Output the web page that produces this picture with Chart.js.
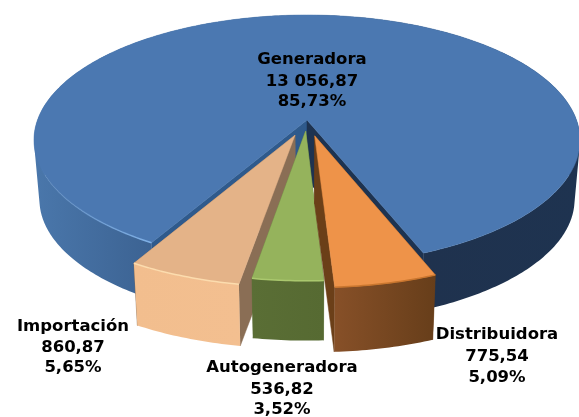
<!DOCTYPE html>
<html>
<head>
<meta charset="utf-8">
<title>Pie 3D</title>
<script src="https://cdn.jsdelivr.net/npm/chart.js@4"></script>
<style>
  html, body { margin: 0; padding: 0; background: #fff; }
  canvas { display: block; }
</style>
</head>
<body>
<canvas id="pie" width="579" height="417"></canvas>
<script>
const labels = ['Generadora', 'Distribuidora', 'Autogeneradora', 'Importación'];
const values = [13056.87, 775.54, 536.82, 860.87];
const valueLabels = ['13 056,87', '775,54', '536,82', '860,87'];
const percentLabels = ['85,73%', '5,09%', '3,52%', '5,65%'];

const topColors = ['#4b78b1', '#ee9349', '#95b35c', '#e4b388'];

// explosion of each slice, in pie radii, and height of its side wall
const explode = [0, 0.13, 0.09, 0.13];
const depths = [60, 68, 63, 65];
// painter's order, back slices first
const drawOrder = [0, 3, 2, 1];
// side colours: [start cut wall, end cut wall], outer wall stops left to right
const cutColors = [
  ['#2f5a8c', '#1e3350'],
  ['#6b3f18', '#6b3f18'],
  ['#5a6e35', '#5a6e35'],
  ['#8a6e55', '#8a6e55']
];
const wallStops = [
  [[0, '#4a77ab'], [0.2, '#3d6494'], [0.5, '#2c4a72'], [0.72, '#1f324e'], [1, '#1e3350']],
  [[0, '#875028'], [1, '#673e1a']],
  [[0, '#5a6e35'], [1, '#566a32']],
  [[0, '#f2be8e'], [1, '#f3bf90']]
];
const rimColors = ['#7fb0e6', '#c9762f', '#aac86e', '#fcdcae'];

// label anchors: centre x and the y of each of the 3 lines
const labelPos = [[312, 60, 82, 102], [497, 335, 357, 378], [282, 368, 390, 410], [73, 327, 348, 368]];

// projection of the disc (perspective seen from above)
const CX = 307, CY = 120, RX = 269.5, RY = 121.8, P = 0.16;

function proj(x, y, z, depth) {
  const w = 1 - P * y;
  const sc = 1 - 0.02 * z;
  return [CX + RX * sc * x / w, CY + RY * sc * y / w + depth * z];
}

function arcPoints(a0, a1, ox, oy, z, depth) {
  const pts = [];
  const n = Math.max(2, Math.ceil((a1 - a0) / 0.015));
  for (let i = 0; i <= n; i++) {
    const a = a0 + (a1 - a0) * i / n;
    pts.push(proj(ox + Math.cos(a), oy + Math.sin(a), z, depth));
  }
  return pts;
}

function tracePoly(ctx, pts) {
  pts.forEach((p, i) => (i ? ctx.lineTo(p[0], p[1]) : ctx.moveTo(p[0], p[1])));
  ctx.closePath();
}

function fillPoly(ctx, pts, fill) {
  ctx.beginPath();
  tracePoly(ctx, pts);
  ctx.fillStyle = fill;
  ctx.fill();
  ctx.strokeStyle = fill;
  ctx.lineWidth = 0.5;
  ctx.stroke();
}

function signedArea(pts) {
  let sum = 0;
  pts.forEach((p, i) => {
    const q = pts[(i + 1) % pts.length];
    sum += p[0] * q[1] - q[0] * p[1];
  });
  return sum;
}

function drawSlice(ctx, el, i) {
  const a0 = el.startAngle, a1 = el.endAngle, mid = (a0 + a1) / 2;
  const ox = Math.cos(mid) * explode[i], oy = Math.sin(mid) * explode[i];
  const d = depths[i];
  const top = arcPoints(a0, a1, ox, oy, 0, d);
  const bottom = arcPoints(a0, a1, ox, oy, 1, d);
  const apexTop = proj(ox, oy, 0, d), apexBottom = proj(ox, oy, 1, d);

  fillPoly(ctx, [apexTop, top[0], bottom[0], apexBottom], cutColors[i][0]);
  fillPoly(ctx, [apexTop, top[top.length - 1], bottom[bottom.length - 1], apexBottom], cutColors[i][1]);

  // outer wall as one path of quads, all wound the same way so no seams show
  const xs = top.concat(bottom).map(p => p[0]);
  const wall = ctx.createLinearGradient(Math.min(...xs), 0, Math.max(...xs), 0);
  wallStops[i].forEach(s => wall.addColorStop(s[0], s[1]));
  ctx.beginPath();
  for (let k = 0; k < top.length - 1; k++) {
    const quad = [top[k], top[k + 1], bottom[k + 1], bottom[k]];
    tracePoly(ctx, signedArea(quad) < 0 ? quad.reverse() : quad);
  }
  ctx.fillStyle = wall;
  ctx.fill();

  fillPoly(ctx, [apexTop].concat(top), el.options.backgroundColor);

  // light rim on the front edge
  let rim = rimColors[i];
  let from = top;
  if (i === 0) {
    from = top.filter(p => p[0] < 160 && p[1] > 150);
    rim = ctx.createLinearGradient(40, 0, 150, 0);
    rim.addColorStop(0, 'rgba(127,176,230,0)');
    rim.addColorStop(1, rimColors[0]);
  }
  ctx.beginPath();
  from.forEach((p, k) => (k ? ctx.lineTo(p[0], p[1]) : ctx.moveTo(p[0], p[1])));
  ctx.strokeStyle = rim;
  ctx.lineWidth = 1.5;
  ctx.stroke();
}

const pie3d = {
  id: 'pie3d',
  beforeDatasetDraw(chart, args) {
    const ctx = chart.ctx;
    ctx.save();
    ctx.lineJoin = 'round';
    drawOrder.forEach(i => drawSlice(ctx, args.meta.data[i], i));
    ctx.restore();
    return false;
  },
  afterDraw(chart) {
    const ctx = chart.ctx;
    ctx.save();
    ctx.font = 'bold 16.5px "DejaVu Sans"';
    ctx.fillStyle = '#000';
    ctx.textAlign = 'center';
    ctx.textBaseline = 'middle';
    labels.forEach((name, i) => {
      const pos = labelPos[i];
      ctx.fillText(name, pos[0], pos[1]);
      ctx.fillText(valueLabels[i], pos[0], pos[2]);
      ctx.fillText(percentLabels[i], pos[0], pos[3]);
    });
    ctx.restore();
  }
};

new Chart(document.getElementById('pie'), {
  type: 'pie',
  data: {
    labels,
    datasets: [{ data: values, backgroundColor: topColors, borderWidth: 0 }]
  },
  options: {
    responsive: false,
    animation: false,
    rotation: -150.2,
    plugins: { legend: { display: false }, tooltip: { enabled: false } }
  },
  plugins: [pie3d]
});
</script>
</body>
</html>
